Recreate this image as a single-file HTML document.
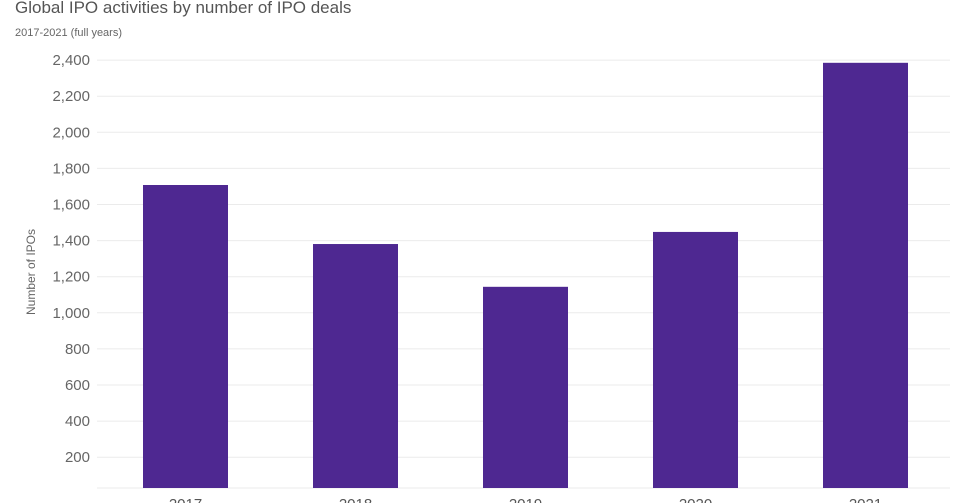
<!DOCTYPE html>
<html><head><meta charset="utf-8">
<style>
html,body{margin:0;padding:0;background:#fff;width:962px;height:503px;overflow:hidden;font-family:"Liberation Sans",sans-serif;}
</style></head>
<body>
<svg id="chart" width="962" height="503" xmlns="http://www.w3.org/2000/svg">
<text x="15" y="13" font-size="17" fill="#555">Global IPO activities by number of IPO deals</text>
<text x="15" y="36" font-size="11" fill="#666">2017-2021 (full years)</text>
<text transform="translate(35,272) rotate(-90)" text-anchor="middle" font-size="12" fill="#666">Number of IPOs</text>
<g id="grid"></g><g id="bars"></g><g id="xlabels"></g>
</svg>
<script>
const categories = ["2017","2018","2019","2020","2021"];
const values = [1708,1381,1144,1448,2385];
const ticks = [200,400,600,800,1000,1200,1400,1600,1800,2000,2200,2400];
const tickLabels = ["200","400","600","800","1,000","1,200","1,400","1,600","1,800","2,000","2,200","2,400"];
const NS="http://www.w3.org/2000/svg";
function y(v){return 493.3 - v*0.1805;}
function x(i){return 143 + i*170;}
const barW=85, baseY=488;
const grid=document.getElementById('grid');
ticks.forEach((t,i)=>{
  const l=document.createElementNS(NS,'line');
  
  
  l.setAttribute('x1',97);l.setAttribute('x2',950);l.setAttribute('y1',y(t));l.setAttribute('y2',y(t));
  l.setAttribute('stroke','#ebebeb');l.setAttribute('stroke-width','1');
  grid.appendChild(l);
  const tx=document.createElementNS(NS,'text');
  
  
  tx.setAttribute('x',90);tx.setAttribute('y',y(t)+5);tx.setAttribute('text-anchor','end');
  tx.setAttribute('font-size','15');tx.setAttribute('fill','#666');
  tx.textContent=tickLabels[i];grid.appendChild(tx);
});
const base=document.createElementNS(NS,'line');


base.setAttribute('x1',97);base.setAttribute('x2',950);base.setAttribute('y1',baseY);base.setAttribute('y2',baseY);
base.setAttribute('stroke','#ebebeb');grid.appendChild(base);
const bars=document.getElementById('bars'), xl=document.getElementById('xlabels');
categories.forEach((c,i)=>{
  const r=document.createElementNS(NS,'rect');
  
  
  r.setAttribute('x',x(i));r.setAttribute('width',barW);
  r.setAttribute('y',y(values[i]));r.setAttribute('height',baseY-y(values[i]));
  r.setAttribute('fill','#4e2891');bars.appendChild(r);
  const t=document.createElementNS(NS,'text');
  
  
  t.setAttribute('x',x(i)+barW/2);t.setAttribute('y',509);t.setAttribute('text-anchor','middle');
  t.setAttribute('font-size','15');t.setAttribute('fill','#555');
  t.textContent=c;xl.appendChild(t);
});
</script>
</body></html>
